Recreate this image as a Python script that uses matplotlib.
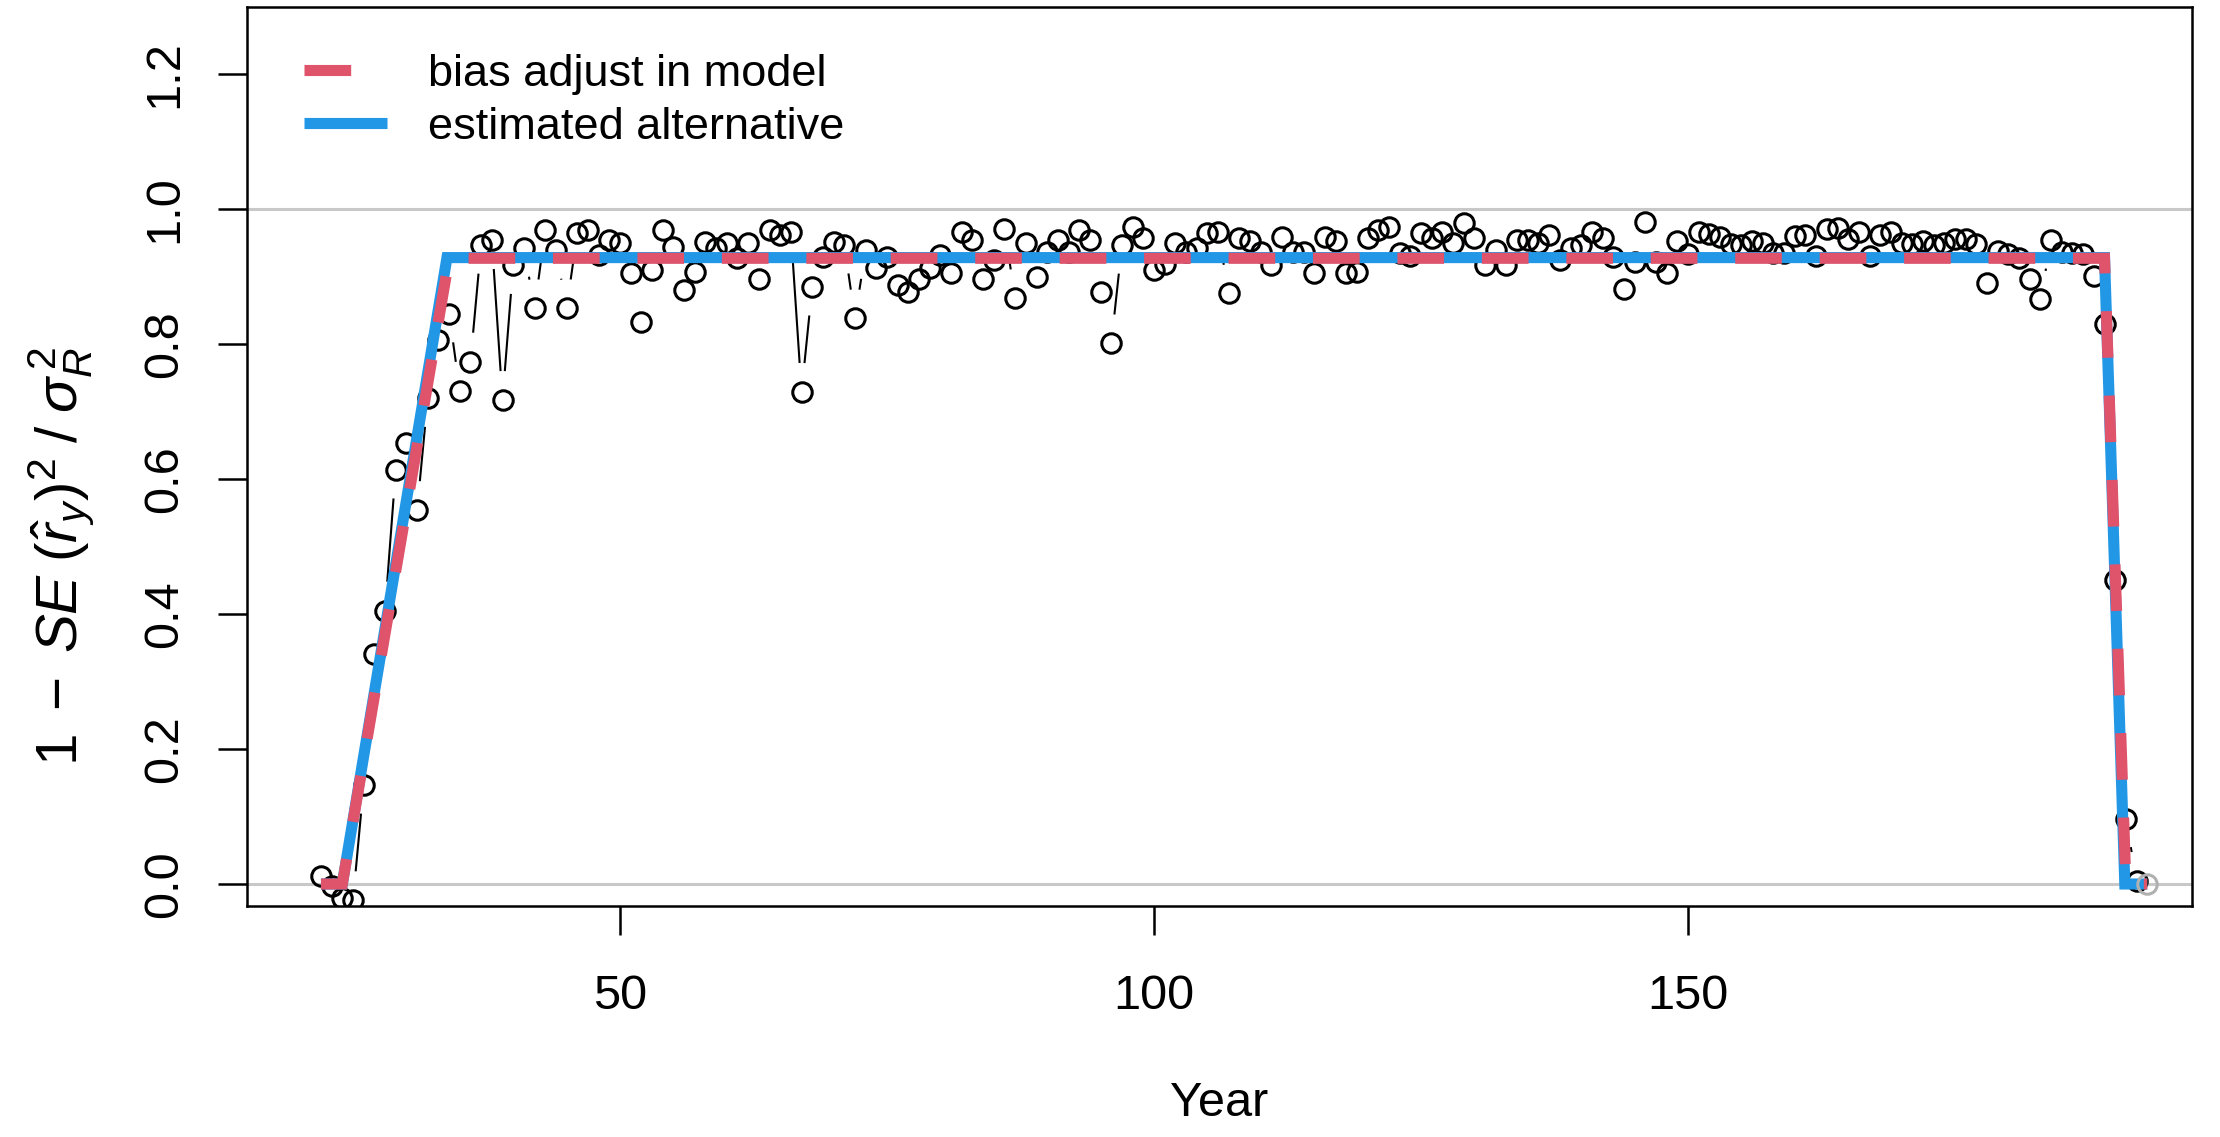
import numpy as np
import matplotlib.pyplot as plt
from matplotlib.collections import LineCollection

plt.rcParams['font.family'] = ['Liberation Sans', 'DejaVu Sans']
plt.rcParams['mathtext.fontset'] = 'custom'
plt.rcParams['mathtext.rm'] = 'Liberation Sans'
plt.rcParams['mathtext.it'] = 'Liberation Sans:italic'

# 1 - SE^2/sigmaR^2 per recruitment year
years = np.arange(22, 194)
ratio = [
    0.012, -0.003, -0.020, -0.024, 0.147, 0.341, 0.405, 0.614, 0.653, 0.554,   # 22-31
    0.720, 0.806, 0.845, 0.731, 0.774, 0.947, 0.954, 0.717, 0.917, 0.942,      # 32-41
    0.853, 0.969, 0.939, 0.853, 0.964, 0.969, 0.932, 0.954, 0.949, 0.905,      # 42-51
    0.833, 0.910, 0.969, 0.944, 0.880, 0.907, 0.951, 0.942, 0.949, 0.927,      # 52-61
    0.949, 0.897, 0.969, 0.961, 0.966, 0.729, 0.885, 0.929, 0.951, 0.947,      # 62-71
    0.838, 0.939, 0.912, 0.929, 0.887, 0.877, 0.897, 0.912, 0.932, 0.905,      # 72-81
    0.966, 0.954, 0.897, 0.924, 0.971, 0.868, 0.949, 0.900, 0.937, 0.954,      # 82-91
    0.937, 0.969, 0.954, 0.877, 0.801, 0.947, 0.974, 0.957, 0.910, 0.919,      # 92-101
    0.949, 0.937, 0.942, 0.964, 0.966, 0.875, 0.957, 0.952, 0.937, 0.917,      # 102-111
    0.959, 0.937, 0.937, 0.905, 0.959, 0.952, 0.905, 0.907, 0.957, 0.969,      # 112-121
    0.974, 0.935, 0.930, 0.964, 0.957, 0.966, 0.949, 0.979, 0.957, 0.917,      # 122-131
    0.939, 0.917, 0.954, 0.954, 0.949, 0.961, 0.924, 0.942, 0.947, 0.966,      # 132-141
    0.957, 0.929, 0.882, 0.922, 0.981, 0.922, 0.905, 0.952, 0.934, 0.966,      # 142-151
    0.963, 0.958, 0.948, 0.947, 0.952, 0.950, 0.935, 0.935, 0.960, 0.962,      # 152-161
    0.930, 0.970, 0.972, 0.955, 0.966, 0.930, 0.962, 0.966, 0.950, 0.948,      # 162-171
    0.952, 0.946, 0.950, 0.955, 0.955, 0.948, 0.890, 0.938, 0.934, 0.928,      # 172-181
    0.896, 0.866, 0.954, 0.937, 0.935, 0.933, 0.901, 0.830, 0.451, 0.097,      # 182-191
    0.005, 0.000,                                                              # 192-193
]

# bias adjustment ramps
model_years = [22, 24, 34, 189, 191, 193]
model_adj = [0, 0, 0.927, 0.927, 0, 0]
alt_years = [22, 24, 33.8, 189, 190.9, 193]
alt_adj = [0, 0, 0.928, 0.928, 0, 0]

W, H = 2220, 1137
fig = plt.figure(figsize=(W / 100, H / 100), dpi=100)
left, right, top, bottom = 246.5, 2192, 7, 906
ax = fig.add_axes([left / W, 1 - bottom / H, (right - left) / W, (bottom - top) / H])

ax.set_xlim((left - 86) / 10.68, (right - 86) / 10.68)
ax.set_ylim((884 - bottom) / 675, (884 - top) / 675)

ax.axhline(0, color='#c8c8c8', lw=2.2, zorder=1)
ax.axhline(1, color='#c8c8c8', lw=2.2, zorder=1)

# type="b" style: connecting lines with gaps around the points
gap = 29
pts = ax.transData.transform(np.column_stack([years, ratio]))
inv = ax.transData.inverted()
segs = []
for p0, p1 in zip(pts[:-1], pts[1:]):
    d = p1 - p0
    L = np.hypot(*d)
    if L > 2 * gap:
        u = d / L
        segs.append(inv.transform(np.array([p0 + u * gap, p1 - u * gap])))
ax.add_collection(LineCollection(segs, colors='black', linewidths=1.5, zorder=2))

ax.plot(years[:-1], ratio[:-1], 'o', mfc='none', mec='black', ms=14, mew=2.2, zorder=2)
ax.plot(years[-1:], ratio[-1:], 'o', mfc='none', mec='#b0b0b0', ms=14, mew=2.2, zorder=5)

ax.plot(alt_years, alt_adj, color='#2297E6', lw=8, solid_capstyle='butt',
        solid_joinstyle='miter', zorder=3, label='estimated alternative')
red, = ax.plot(model_years, model_adj, color='#DF536B', lw=8, dash_capstyle='butt',
               dash_joinstyle='miter', zorder=4, label='bias adjust in model')
red.set_dashes([4.2, 3.4])

h, l = ax.get_legend_handles_labels()
ax.legend(h[::-1], l[::-1], loc='center left', bbox_to_anchor=(0.0296, 0.8955),
          frameon=False, fontsize=32.5, borderpad=0, borderaxespad=0,
          handlelength=1.84, handletextpad=0.9, labelspacing=0.28)

ax.set_xticks([50, 100, 150])
ax.set_yticks([0, 0.2, 0.4, 0.6, 0.8, 1.0, 1.2])
ax.set_yticklabels(['0.0', '0.2', '0.4', '0.6', '0.8', '1.0', '1.2'],
                   rotation=90, va='center')
ax.tick_params(axis='both', direction='out', length=21, width=1.8, labelsize=35)
ax.tick_params(axis='x', pad=28)
ax.tick_params(axis='y', pad=22)
for s in ax.spines.values():
    s.set_linewidth(1.8)

ax.set_xlabel('Year', fontsize=35)
ax.xaxis.set_label_coords(0.5, -(1104 - bottom) / (bottom - top))
ax.xaxis.label.set_va('center')
ax.set_ylabel(r'$1\;-\;SE\;(\hat{r}_y)^{2}\;/\;\sigma_R^{\,2}$', fontsize=42)
ax.yaxis.set_label_coords(-(left - 62) / (right - left), 1 - (556 - top) / (bottom - top))
ax.yaxis.label.set_va('center')

fig.savefig('out.png', dpi=100)
